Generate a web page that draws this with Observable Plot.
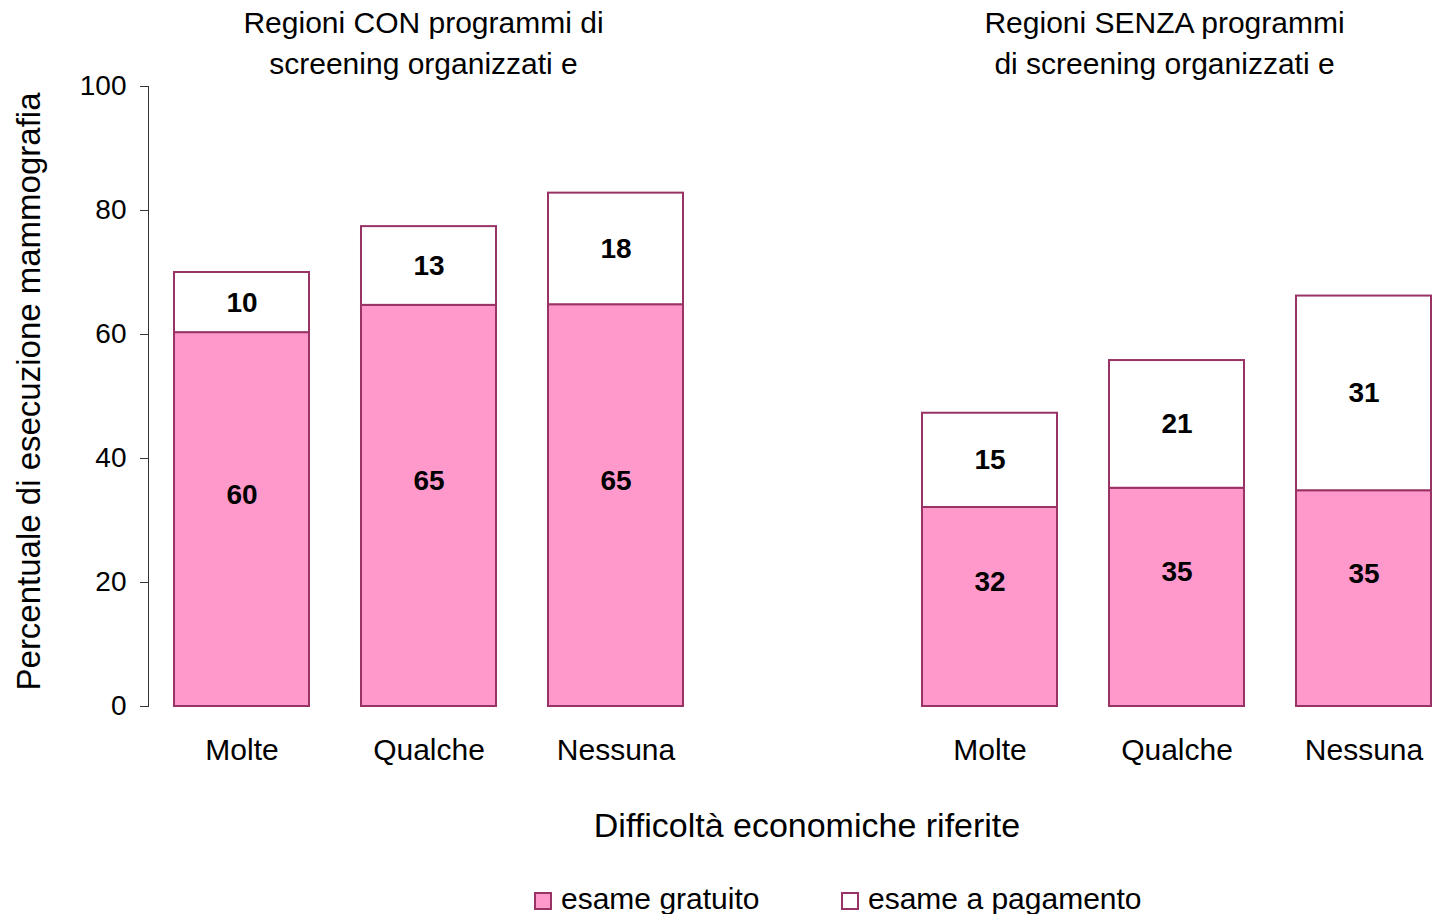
<!DOCTYPE html>
<html><head><meta charset="utf-8">
<script src="https://cdn.jsdelivr.net/npm/d3@7"></script>
<script src="https://cdn.jsdelivr.net/npm/@observablehq/plot@0.6"></script>
<style>
html,body{margin:0;padding:0;background:#fff;overflow:hidden;}
body{width:1432px;height:914px;font-family:"Liberation Sans",Arial,sans-serif;position:relative;}
#legend{position:relative;height:44px;width:1432px;}
.item{position:absolute;top:12px;display:flex;align-items:center;font-size:30px;color:#000;line-height:34px;white-space:nowrap;}
.sw{width:14px;height:14px;border:2px solid #993366;margin-right:9px;margin-top:4px;}
</style></head><body>
<div id="chart"></div>
<div id="legend"></div>
<script>
const gruppi = ["CON", "SENZA"];
const difficolta = ["Molte", "Qualche", "Nessuna"];
const gratuito = [60.3, 64.7, 64.8, 32.1, 35.2, 34.8];
const pagamento = [9.7, 12.7, 18.0, 15.2, 20.6, 31.4];
const serie = ["esame gratuito", "esame a pagamento"];
const coloriSerie = ["#FF99CC", "#FFFFFF"];
const titoli = ["Regioni CON programmi di\nscreening organizzati e", "Regioni SENZA programmi\ndi screening organizzati e"];
const titoloX = "Difficoltà economiche riferite";
const titoloY = "Percentuale di esecuzione mammografia";
const yTicks = [0, 20, 40, 60, 80, 100];

const table = [];
gruppi.forEach((g, gi) => difficolta.forEach((d, di) => {
  const i = gi * difficolta.length + di;
  table.push({key: g + "|" + d, grat: gratuito[i], pag: pagamento[i]});
}));
const domain = [...table.slice(0, 3).map(d => d.key), "gap", ...table.slice(3).map(d => d.key)];
const long = [
  ...table.map(d => ({key: d.key, serie: serie[0], value: d.grat})),
  ...table.map(d => ({key: d.key, serie: serie[1], value: d.pag}))
];

const H = 870;
const chart = Plot.plot({
  width: 1432, height: H,
  marginLeft: 148, marginRight: 0, marginTop: 86, marginBottom: H - 706,
  style: {fontFamily: '"Liberation Sans", Arial, sans-serif', fontSize: "28px", color: "#000", background: "#fff"},
  x: {domain, range: [148, 1457], paddingInner: 0.278, paddingOuter: 0.139, round: false, axis: null},
  y: {domain: [0, 100], axis: null},
  color: {domain: serie, range: coloriSerie},
  marks: [
    Plot.barY(long, {x: "key", y: "value", fill: "serie", stroke: "#993366", strokeWidth: 2}),
    Plot.text(table, {x: "key", y: d => d.grat / 2, text: d => Math.round(d.grat), dy: -25, fontWeight: "bold", fontSize: 28}),
    Plot.text(table, {x: "key", y: d => d.grat + d.pag / 2, text: d => Math.round(d.pag), fontWeight: "bold", fontSize: 28}),
    Plot.axisY({ticks: yTicks, tickSize: 8, tickPadding: 14, fontSize: 28, label: null, stroke: "#333"}),
    Plot.frame({anchor: "left", stroke: "#333"}),
    Plot.axisX({tickSize: 0, tickPadding: 32, fontSize: 30, label: null, tickFormat: k => k.split("|")[1] || ""}),
    Plot.text([titoli[0]], {x: ["CON|Qualche"], text: d => d, frameAnchor: "top", dy: -46, dx: -5.5, lineAnchor: "middle", lineHeight: 1.36, fontSize: 30}),
    Plot.text([titoli[1]], {x: ["SENZA|Qualche"], text: d => d, frameAnchor: "top", dy: -46, dx: -12.5, lineAnchor: "middle", lineHeight: 1.36, fontSize: 30}),
    Plot.text([titoloX], {x: ["gap"], text: d => d, frameAnchor: "bottom", dy: 120, dx: 4, lineAnchor: "middle", fontSize: 34}),
    Plot.text([titoloY], {text: d => d, frameAnchor: "left", textAnchor: "middle", lineAnchor: "middle", rotate: -90, dx: -119, dy: -5, fontSize: 33})
  ]
});
document.getElementById("chart").appendChild(chart);

const legend = document.getElementById("legend");
const lefts = [534, 841];
serie.forEach((s, i) => {
  const it = document.createElement("div");
  it.className = "item";
  it.style.left = lefts[i] + "px";
  const sw = document.createElement("span");
  sw.className = "sw";
  sw.style.background = coloriSerie[i];
  const t = document.createElement("span");
  t.textContent = s;
  it.appendChild(sw); it.appendChild(t);
  legend.appendChild(it);
});
</script>
</body></html>
